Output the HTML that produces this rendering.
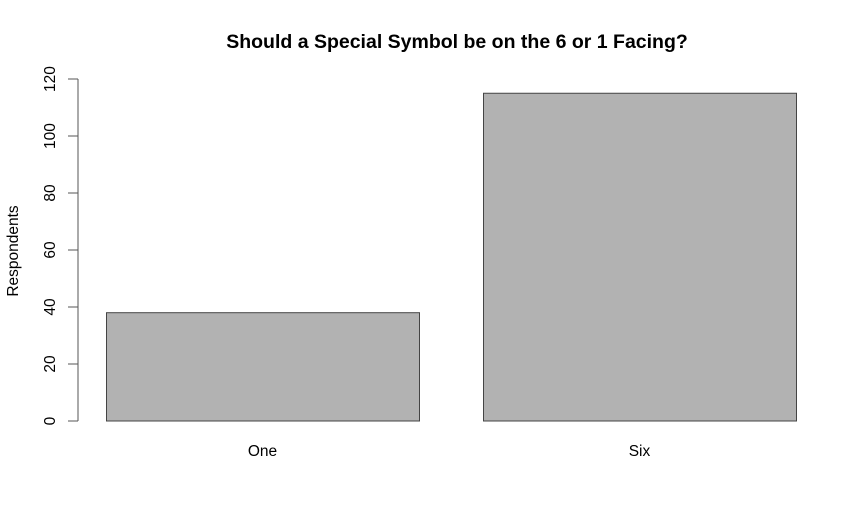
<!DOCTYPE html>
<html><head><meta charset="utf-8"><style>
html,body{margin:0;padding:0;background:#fff;width:864px;height:519px;overflow:hidden}
text{font-family:"Liberation Sans",Arial,sans-serif}
</style></head><body>
<svg id="chart" width="864" height="519" xmlns="http://www.w3.org/2000/svg">
<text x="457" y="48" text-anchor="middle" font-size="19.5" font-weight="bold" fill="#000">Should a Special Symbol be on the 6 or 1 Facing?</text>
<text transform="translate(18,251) rotate(-90)" text-anchor="middle" font-size="15.5" fill="#000">Respondents</text>
<g id="axis"></g>
<g id="bars"></g>
</svg>
<script>
const categories = ["One", "Six"];
const values = [38, 115];
const yTicks = [0, 20, 40, 60, 80, 100, 120];

const NS = "http://www.w3.org/2000/svg";
const y0 = 421, y1 = 79, yMax = 120;
function yScale(v){ return y0 - v / yMax * (y0 - y1); }
const barLeft0 = 106, barWidth = 313, barStep = 377;
function xScale(i){ return barLeft0 + i * barStep; }

const axis = document.getElementById("axis");
const line = document.createElementNS(NS, "line");


line.setAttribute("x1", 78); line.setAttribute("x2", 78);
line.setAttribute("y1", yScale(yTicks[0])); line.setAttribute("y2", yScale(yTicks[yTicks.length-1]));
line.setAttribute("stroke", "#555"); line.setAttribute("stroke-width", "1");
axis.appendChild(line);
yTicks.forEach(t => {
  const y = yScale(t);
  const tk = document.createElementNS(NS, "line");
  
  
  tk.setAttribute("x1", 68); tk.setAttribute("x2", 78);
  tk.setAttribute("y1", y); tk.setAttribute("y2", y);
  tk.setAttribute("stroke", "#555");
  axis.appendChild(tk);
  const lb = document.createElementNS(NS, "text");
  
  
  lb.setAttribute("transform", `translate(55,${y}) rotate(-90)`);
  lb.setAttribute("text-anchor", "middle");
  lb.setAttribute("font-size", "15.5");
  lb.textContent = t;
  axis.appendChild(lb);
});

const bars = document.getElementById("bars");
categories.forEach((c, i) => {
  const r = document.createElementNS(NS, "rect");
  
  
  r.setAttribute("x", xScale(i) + 0.5);
  r.setAttribute("y", yScale(values[i]));
  r.setAttribute("width", barWidth);
  r.setAttribute("height", yScale(0) - yScale(values[i]));
  r.setAttribute("fill", "#b2b2b2");
  r.setAttribute("stroke", "#444");
  r.setAttribute("stroke-width", "1");
  bars.appendChild(r);
  const lb = document.createElementNS(NS, "text");
  
  
  lb.setAttribute("x", xScale(i) + barWidth / 2);
  lb.setAttribute("y", 456);
  lb.setAttribute("text-anchor", "middle");
  lb.setAttribute("font-size", "15.5");
  lb.textContent = c;
  bars.appendChild(lb);
});
</script>
</body></html>
